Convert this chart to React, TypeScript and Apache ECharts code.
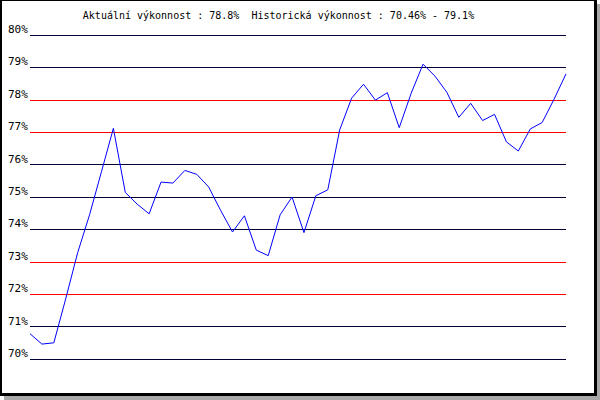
import React, { useEffect, useRef } from "react";
import * as echarts from "echarts";

const titleText = "Aktuální výkonnost : 78.8%  Historická výkonnost : 70.46% - 79.1%";
const yMin = 70;
const yMax = 80;
const yStep = 1;
// colours of the horizontal grid lines, from 70% up to 80%
const gridColors = [
  "#000033", "#000033", "#ff0000", "#ff0000", "#000033", "#000033",
  "#000033", "#ff0000", "#ff0000", "#000033", "#000033",
];
const values = [
  70.78, 70.46, 70.5, 71.86, 73.28, 74.45, 75.78, 77.12, 75.14, 74.78,
  74.48, 75.46, 75.43, 75.82, 75.7, 75.31, 74.59, 73.92, 74.42, 73.36,
  73.19, 74.45, 75.0, 73.9, 75.04, 75.22, 77.07, 78.05, 78.48, 77.99,
  78.22, 77.14, 78.2, 79.1, 78.73, 78.23, 77.46, 77.89, 77.36, 77.55,
  76.7, 76.42, 77.1, 77.3, 78.02, 78.8,
];
const categories = values.map((_, i) => String(i + 1));

export default function App() {
  const ref = useRef<HTMLDivElement>(null);
  useEffect(() => {
    document.body.style.margin = "0";
    if (!ref.current) return;
    const chart = echarts.init(ref.current, null, { renderer: "svg" });
    chart.setOption({
      animation: false,
      backgroundColor: "#ffffff",
      graphic: [
        { type: "rect", z: -10, shape: { x: 4, y: 4, width: 596, height: 396 }, style: { fill: "#a9a9a9" }, silent: true },
        { type: "rect", z: -9, shape: { x: 0, y: 0, width: 597, height: 396 }, style: { fill: "#000000" }, silent: true },
        { type: "rect", z: -8, shape: { x: 2, y: 1, width: 592, height: 392 }, style: { fill: "#ffffff" }, silent: true },
        {
          type: "text",
          x: 278.5,
          y: 15,
          style: {
            text: titleText,
            fill: "#000000",
            font: "10px 'DejaVu Sans Mono'",
            textAlign: "center",
            textVerticalAlign: "middle",
          },
        },
      ],
      grid: { left: 30, right: 34, top: 35, bottom: 41, containLabel: false },
      xAxis: {
        type: "category",
        data: categories,
        boundaryGap: false,
        show: false,
      },
      yAxis: {
        type: "value",
        min: yMin,
        max: yMax,
        interval: yStep,
        axisLine: { show: false },
        axisTick: { show: false },
        axisLabel: {
          formatter: (v: number) => `${v}%`,
          align: "left",
          margin: 22,
          verticalAlign: "bottom",
          fontFamily: "DejaVu Sans Mono",
          fontSize: 11,
          color: "#000000",
          padding: [0, 0, 0, 0],
        },
        splitLine: { show: true, lineStyle: { color: gridColors, width: 1 } },
      },
      series: [
        {
          type: "line",
          data: values,
          showSymbol: false,
          symbol: "none",
          lineStyle: { color: "#0000ff", width: 1 },
          itemStyle: { color: "#0000ff" },
        },
      ],
    });
    return () => chart.dispose();
  }, []);
  return <div ref={ref} style={{ width: 600, height: 400 }} />;
}
